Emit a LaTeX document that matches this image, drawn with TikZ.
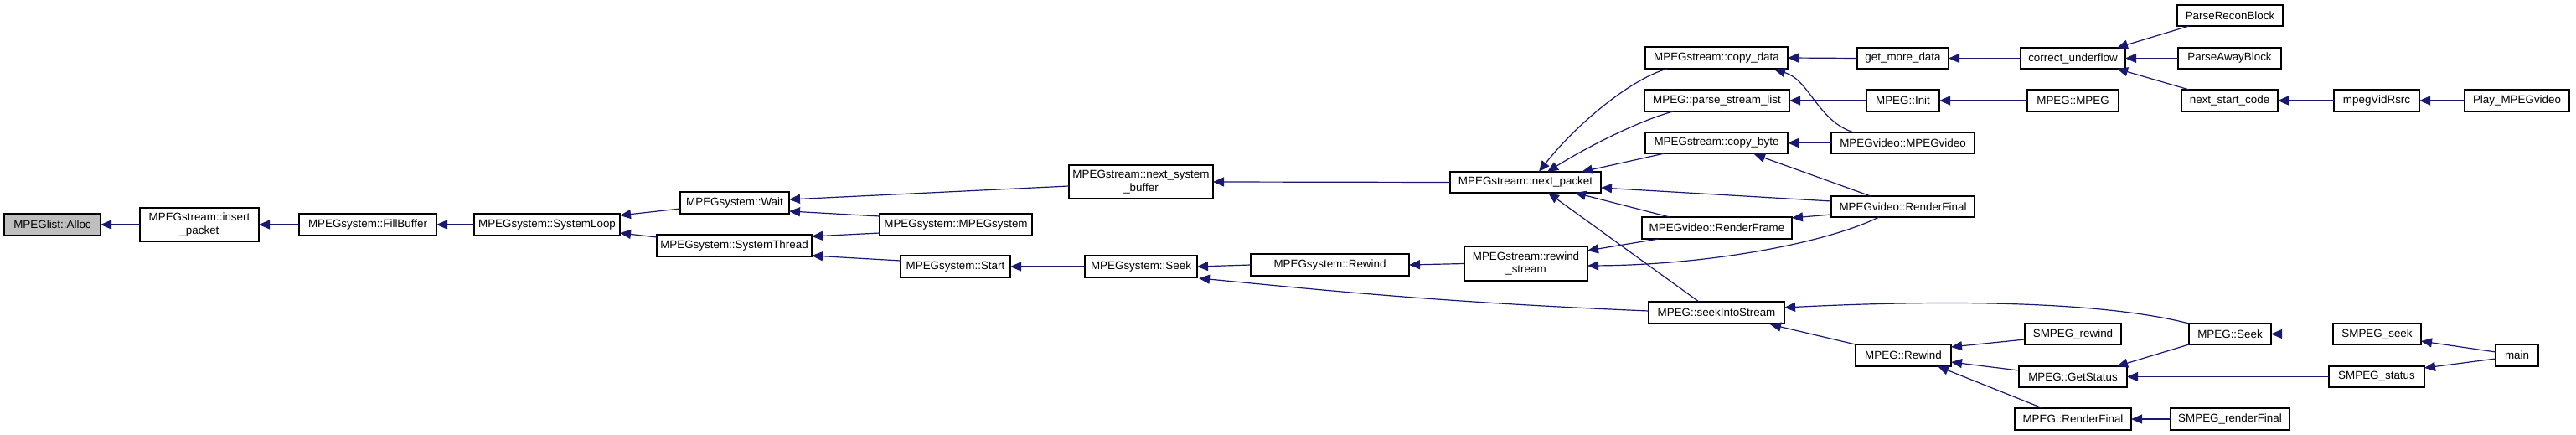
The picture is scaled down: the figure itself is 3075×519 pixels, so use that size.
\documentclass[tikz,border=0pt]{standalone}
\usepackage{fontspec}
\setmainfont{Liberation Sans}
\usetikzlibrary{arrows.meta,calc}
\definecolor{edgec}{HTML}{191970}
\definecolor{grayfill}{HTML}{BFBFBF}
\tikzset{
  box/.style={draw=black,line width=1.3pt,fill=white,rectangle,inner sep=0pt,outer sep=0pt,align=center,
    font=\fontsize{13.4}{15.5}\selectfont},
  e/.style={draw=edgec,line width=1.2pt,-{Triangle[length=13pt,width=11pt]}},
}
\newcommand\nb[7][]{\node[box,#1,minimum width={(#5-#3)*1pt},minimum height={(#6-#4)*1pt}] (#2) at ({(#3+#5)/2},{(#4+#6)/2}) {#7};}
\begin{document}
\begin{tikzpicture}[x=1pt,y=-1pt]
\useasboundingbox[fill=white] (0,0) rectangle (3075,519);
% nodes
\nb[fill=grayfill]{alloc}{5}{255}{120}{281}{MPEGlist::Alloc}
\nb{insp}{167}{248}{309}{288}{MPEGstream::insert\\\_packet}
\nb{fill}{357}{255}{521}{281}{MPEGsystem::FillBuffer}
\nb{loop}{566}{255}{740}{281}{MPEGsystem::SystemLoop}
\nb{wait}{812}{229}{942}{255}{MPEGsystem::Wait}
\nb{thread}{784}{280}{969}{306}{MPEGsystem::SystemThread}
\nb{nsb}{1276}{197}{1448}{237}{MPEGstream::next\_system\\\_buffer}
\nb{msys}{1050}{255}{1232}{281}{MPEGsystem::MPEGsystem}
\nb{start}{1075}{305}{1206}{331}{MPEGsystem::Start}
\nb{sseek}{1295}{305}{1429}{331}{MPEGsystem::Seek}
\nb{srew}{1493}{303}{1682}{329}{MPEGsystem::Rewind}
\nb{npk}{1731}{205}{1911}{230}{MPEGstream::next\_packet}
\nb{cdata}{1964}{56}{2134}{82}{MPEGstream::copy\_data}
\nb{psl}{1963}{107}{2136}{133}{MPEG::parse\_stream\_list}
\nb{cbyte}{1964}{158}{2134}{183}{MPEGstream::copy\_byte}
\nb{rframe}{1960}{259}{2139}{285}{MPEGvideo::RenderFrame}
\nb{rws}{1748}{294}{1895}{335}{MPEGstream::rewind\\\_stream}
\nb{sis}{1968}{360}{2130}{386}{MPEG::seekIntoStream}
\nb{gmd}{2217}{57}{2326}{82}{get\_more\_data}
\nb{cu}{2412}{57}{2537}{82}{correct\_underflow}
\nb{init}{2228}{107}{2315}{133}{MPEG::Init}
\nb{mpeg}{2420}{107}{2529}{133}{MPEG::MPEG}
\nb{vmv}{2186}{158}{2357}{183}{MPEGvideo::MPEGvideo}
\nb{vrf}{2186}{234}{2357}{259}{MPEGvideo::RenderFinal}
\nb{mrew}{2215}{411}{2329}{437}{MPEG::Rewind}
\nb{smrew}{2417}{386}{2532}{411}{SMPEG\_rewind}
\nb{gst}{2410}{437}{2539}{462}{MPEG::GetStatus}
\nb{mrf}{2405}{487}{2544}{513}{MPEG::RenderFinal}
\nb{prb}{2599}{6}{2725}{31}{ParseReconBlock}
\nb{pab}{2600}{57}{2723}{82}{ParseAwayBlock}
\nb{nsc}{2604}{107}{2719}{133}{next\_start\_code}
\nb{mvr}{2786}{107}{2888}{133}{mpegVidRsrc}
\nb{play}{2942}{107}{3067}{133}{Play\_MPEGvideo}
\nb{mseek}{2613}{386}{2711}{411}{MPEG::Seek}
\nb{smseek}{2785}{386}{2890}{411}{SMPEG\_seek}
\nb{main}{2979}{411}{3030}{437}{main}
\nb{smst}{2780}{437}{2894}{462}{SMPEG\_status}
\nb{smrf}{2591}{487}{2733}{513}{SMPEG\_renderFinal}
% edges
\draw[e] (insp.west) -- (alloc.east);
\draw[e] (fill.west) -- (insp.east);
\draw[e] (loop.west) -- (fill.east);
\draw[e] ($(wait.west)+(0,7)$) -- ($(loop.east)+(0,-11)$);
\draw[e] ($(thread.west)+(0,-10)$) -- ($(loop.east)+(0,10)$);
\draw[e] ($(nsb.west)+(0,5)$) -- ($(wait.east)+(0,-4)$);
\draw[e] ($(msys.west)+(0,-10)$) -- ($(wait.east)+(0,10)$);
\draw[e] ($(msys.west)+(0,10)$) -- ($(thread.east)+(0,-11)$);
\draw[e] ($(start.west)+(0,-7)$) -- ($(thread.east)+(0,12)$);
\draw[e] (sseek.west) -- (start.east);
\draw[e] (srew.west) -- (sseek.east);
\draw[e] ($(sis.west)+(0,-2)$) .. controls (1700,360) and (1550,343) .. ($(sseek.south east)+(2,1)$);
\draw[e] (npk.west) -- (nsb.east);
\draw[e] (rws.west) -- (srew.east);
\draw[e] ($(cdata.south west)+(26,0)$) .. controls (1945,95) and (1880,150) .. ($(npk.north west)+(106,0)$);
\draw[e] ($(psl.south west)+(34,0)$) .. controls (1960,143) and (1900,172) .. ($(npk.north west)+(116,0)$);
\draw[e] ($(cbyte.south west)+(23,0)$) -- ($(npk.north west)+(157,0)$);
\draw[e] ($(vrf.west)+(0,-6.5)$) -- ($(npk.east)+(0,6.5)$);
\draw[e] ($(rframe.north west)+(33,0)$) -- ($(npk.south west)+(149,0)$);
\draw[e] ($(sis.north west)+(60,0)$) -- ($(npk.south west)+(117,0)$);
\draw[e] ($(rframe.south west)+(20,0)$) -- ($(rws.east)+(0,-15.5)$);
\draw[e] ($(vrf.south west)+(57,0)$) .. controls (2180,290) and (2040,316) .. ($(rws.east)+(0,2.5)$);
\draw[e] (gmd.west) -- (cdata.east);
\draw[e] (cu.west) -- (gmd.east);
\draw[e] ($(prb.south west)+(14,0)$) -- ($(cu.north east)+(-10,0)$);
\draw[e] (pab.west) -- (cu.east);
\draw[e] ($(nsc.north west)+(9,0)$) -- ($(cu.south east)+(-10,0)$);
\draw[e] (mvr.west) -- (nsc.east);
\draw[e] (play.west) -- (mvr.east);
\draw[e] ($(vmv.north west)+(27,0)$) .. controls (2170,145) and (2160,95) .. ($(cdata.south west)+(154,1)$);
\draw[e] (init.west) -- (psl.east);
\draw[e] (mpeg.west) -- (init.east);
\draw[e] (vmv.west) -- (cbyte.east);
\draw[e] ($(vrf.north west)+(47,0)$) -- ($(cbyte.south west)+(130,1)$);
\draw[e] ($(vrf.west)+(0,9.5)$) -- ($(rframe.east)+(0,-12)$);
\draw[e] (mseek.north west) .. controls (2520,362) and (2350,356) .. ($(sis.east)+(0,-6)$);
\draw[e] (mrew.north west) -- ($(sis.south east)+(-17,1)$);
\draw[e] ($(smrew.west)+(0,6.5)$) -- ($(mrew.east)+(0,-10)$);
\draw[e] ($(gst.west)+(0,-7.5)$) -- ($(mrew.east)+(0,8)$);
\draw[e] ($(mrf.north west)+(33,0)$) -- ($(mrew.south west)+(98,0)$);
\draw[e] (mseek.south west) -- ($(gst.north east)+(-12,0)$);
\draw[e] (smst.west) -- (gst.east);
\draw[e] (smrf.west) -- (mrf.east);
\draw[e] (smseek.west) -- (mseek.east);
\draw[e] ($(main.west)+(0,-4)$) -- ($(smseek.east)+(0,8.5)$);
\draw[e] ($(main.west)+(0,4)$) -- ($(smst.east)+(0,-10.5)$);
\end{tikzpicture}
\end{document}
